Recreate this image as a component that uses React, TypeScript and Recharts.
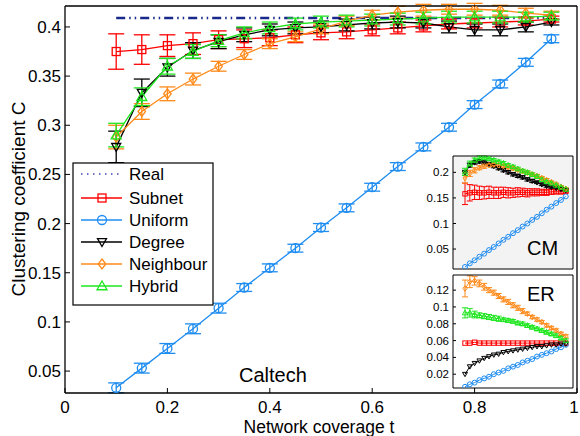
import { ComposedChart, Line, XAxis, YAxis, ErrorBar, CartesianGrid } from 'recharts'

// Main panel: clustering coefficient vs. network coverage (Caltech)
const coverage = [0.1, 0.15, 0.2, 0.25, 0.3, 0.35, 0.4, 0.45, 0.5, 0.55, 0.6, 0.65, 0.7, 0.75, 0.8, 0.85, 0.9, 0.95]
const realC = 0.409
const subnet = [0.375, 0.377, 0.381, 0.383, 0.387, 0.388, 0.389, 0.392, 0.394, 0.395, 0.397, 0.399, 0.401, 0.403, 0.404, 0.405, 0.406, 0.408]
const subnetErr = [0.018, 0.015, 0.011, 0.011, 0.009, 0.009, 0.008, 0.008, 0.007, 0.007, 0.006, 0.006, 0.006, 0.005, 0.005, 0.005, 0.004, 0.003]
const uniform = [0.033, 0.053, 0.073, 0.093, 0.114, 0.135, 0.155, 0.175, 0.196, 0.216, 0.237, 0.258, 0.278, 0.298, 0.321, 0.342, 0.364, 0.388]
const uniformErr = [0.005, 0.005, 0.005, 0.005, 0.005, 0.004, 0.004, 0.004, 0.004, 0.004, 0.004, 0.004, 0.004, 0.004, 0.004, 0.004, 0.004, 0.004]
const degree = [0.278, 0.333, 0.359, 0.376, 0.385, 0.392, 0.397, 0.399, 0.400, 0.402, 0.404, 0.405, 0.404, 0.400, 0.397, 0.397, 0.400, 0.405]
const degreeErr = [0.016, 0.014, 0.009, 0.008, 0.007, 0.007, 0.006, 0.006, 0.006, 0.006, 0.006, 0.006, 0.005, 0.006, 0.006, 0.006, 0.005, 0.003]
const neighbour = [0.288, 0.314, 0.332, 0.347, 0.360, 0.372, 0.383, 0.390, 0.398, 0.406, 0.412, 0.415, 0.417, 0.418, 0.418, 0.417, 0.414, 0.412]
const neighbourErr = [0.012, 0.008, 0.007, 0.006, 0.005, 0.005, 0.005, 0.005, 0.005, 0.005, 0.005, 0.006, 0.006, 0.005, 0.006, 0.005, 0.005, 0.004]
const hybrid = [0.290, 0.329, 0.360, 0.375, 0.386, 0.394, 0.399, 0.403, 0.405, 0.406, 0.407, 0.408, 0.409, 0.410, 0.410, 0.410, 0.410, 0.411]
const hybridErr = [0.012, 0.009, 0.008, 0.007, 0.006, 0.006, 0.006, 0.006, 0.006, 0.006, 0.006, 0.006, 0.006, 0.006, 0.006, 0.006, 0.005, 0.004]

const xTicks = [0, 0.2, 0.4, 0.6, 0.8, 1]
const yTicks = [0.05, 0.1, 0.15, 0.2, 0.25, 0.3, 0.35, 0.4]

// Insets: synthetic networks
const insetCoverage = [0.1, 0.14, 0.18, 0.22, 0.26, 0.3, 0.34, 0.38, 0.42, 0.46, 0.5, 0.54, 0.58, 0.62, 0.66, 0.7, 0.74, 0.78, 0.82, 0.86, 0.9, 0.94]

const cmSubnet = [0.158, 0.160, 0.161, 0.160, 0.160, 0.161, 0.160, 0.160, 0.161, 0.160, 0.160, 0.161, 0.161, 0.160, 0.161, 0.161, 0.161, 0.161, 0.162, 0.162, 0.162, 0.163]
const cmSubnetErr = [0.021, 0.016, 0.014, 0.013, 0.012, 0.012, 0.011, 0.011, 0.010, 0.010, 0.009, 0.009, 0.008, 0.008, 0.007, 0.007, 0.006, 0.006, 0.005, 0.004, 0.004, 0.003]
const cmUniform = [0.015, 0.022, 0.028, 0.035, 0.041, 0.048, 0.054, 0.061, 0.068, 0.074, 0.081, 0.087, 0.094, 0.100, 0.107, 0.113, 0.120, 0.127, 0.133, 0.140, 0.146, 0.153]
const cmDegree = [0.199, 0.214, 0.219, 0.221, 0.219, 0.216, 0.212, 0.208, 0.204, 0.200, 0.196, 0.193, 0.190, 0.186, 0.183, 0.180, 0.176, 0.173, 0.171, 0.169, 0.167, 0.165]
const cmDegreeErr = [0.005, 0.004, 0.003, 0.003, 0.003, 0.003, 0.003, 0.003, 0.003, 0.003, 0.003, 0.003, 0.003, 0.003, 0.003, 0.002, 0.002, 0.002, 0.002, 0.002, 0.002, 0.002]
const cmNeighbour = [0.189, 0.198, 0.204, 0.209, 0.212, 0.214, 0.215, 0.214, 0.212, 0.210, 0.208, 0.205, 0.202, 0.199, 0.196, 0.193, 0.189, 0.185, 0.181, 0.177, 0.172, 0.168]
const cmNeighbourErr = [0.010, 0.006, 0.005, 0.004, 0.004, 0.003, 0.003, 0.003, 0.003, 0.003, 0.003, 0.003, 0.003, 0.003, 0.003, 0.003, 0.003, 0.003, 0.002, 0.002, 0.002, 0.002]
const cmHybrid = [0.201, 0.217, 0.224, 0.228, 0.229, 0.227, 0.224, 0.221, 0.218, 0.214, 0.211, 0.207, 0.203, 0.200, 0.196, 0.192, 0.186, 0.182, 0.179, 0.175, 0.171, 0.167]
const cmHybridErr = [0.007, 0.005, 0.004, 0.004, 0.003, 0.003, 0.003, 0.003, 0.003, 0.003, 0.003, 0.003, 0.003, 0.003, 0.003, 0.003, 0.003, 0.002, 0.002, 0.002, 0.002, 0.002]

const erSubnet = [0.057, 0.057, 0.058, 0.057, 0.057, 0.057, 0.057, 0.057, 0.057, 0.057, 0.057, 0.057, 0.057, 0.057, 0.057, 0.057, 0.057, 0.057, 0.057, 0.057, 0.057, 0.057]
const erUniform = [0.005, 0.008, 0.010, 0.013, 0.015, 0.017, 0.020, 0.022, 0.024, 0.027, 0.029, 0.031, 0.034, 0.036, 0.038, 0.041, 0.043, 0.045, 0.047, 0.050, 0.052, 0.055]
const erDegree = [0.020, 0.029, 0.033, 0.036, 0.039, 0.041, 0.043, 0.044, 0.046, 0.047, 0.048, 0.049, 0.050, 0.051, 0.052, 0.053, 0.053, 0.054, 0.055, 0.055, 0.056, 0.056]
const erNeighbour = [0.122, 0.130, 0.131, 0.128, 0.124, 0.120, 0.117, 0.113, 0.109, 0.106, 0.102, 0.099, 0.095, 0.092, 0.088, 0.085, 0.082, 0.078, 0.075, 0.072, 0.068, 0.065]
const erNeighbourErr = [0.010, 0.007, 0.005, 0.004, 0.004, 0.003, 0.003, 0.003, 0.003, 0.003, 0.003, 0.003, 0.003, 0.002, 0.002, 0.002, 0.002, 0.002, 0.002, 0.002, 0.002, 0.002]
const erHybrid = [0.093, 0.093, 0.091, 0.090, 0.089, 0.088, 0.087, 0.086, 0.085, 0.084, 0.083, 0.081, 0.080, 0.078, 0.076, 0.074, 0.072, 0.070, 0.068, 0.066, 0.063, 0.060]
const erHybridErr = [0.006, 0.005, 0.004, 0.003, 0.003, 0.003, 0.003, 0.003, 0.002, 0.002, 0.002, 0.002, 0.002, 0.002, 0.002, 0.002, 0.002, 0.002, 0.002, 0.002, 0.002, 0.002]

const cmTicks = [0.05, 0.1, 0.15, 0.2]
const erTicks = [0.02, 0.04, 0.06, 0.08, 0.1, 0.12]
const insetXTicks = [0.2, 0.4, 0.6, 0.8]

const NAVY = '#1a2a8c'
const RED = '#ff0000'
const BLUE = '#1e8cf0'
const BLACK = '#000000'
const ORANGE = '#ff8a1a'
const GREEN = '#1ee61e'
const FONT = "'Liberation Sans', Arial, Helvetica, sans-serif"

type MarkerKind = 'square' | 'circle' | 'down' | 'diamond' | 'up'

const series: { key: string; name: string; color: string; marker: MarkerKind; size: number }[] = [
  { key: 'subnet', name: 'Subnet', color: RED, marker: 'square', size: 8 },
  { key: 'uniform', name: 'Uniform', color: BLUE, marker: 'circle', size: 9 },
  { key: 'degree', name: 'Degree', color: BLACK, marker: 'down', size: 9 },
  { key: 'neighbour', name: 'Neighbour', color: ORANGE, marker: 'diamond', size: 10 },
  { key: 'hybrid', name: 'Hybrid', color: GREEN, marker: 'up', size: 10 },
]

const mainRows = coverage.map((t, i) => ({
  t,
  real: realC,
  subnet: subnet[i], subnetErr: subnetErr[i],
  uniform: uniform[i], uniformErr: uniformErr[i],
  degree: degree[i], degreeErr: degreeErr[i],
  neighbour: neighbour[i], neighbourErr: neighbourErr[i],
  hybrid: hybrid[i], hybridErr: hybridErr[i],
}))

const cmRows = insetCoverage.map((t, i) => ({
  t,
  subnet: cmSubnet[i], subnetErr: cmSubnetErr[i],
  uniform: cmUniform[i],
  degree: cmDegree[i], degreeErr: cmDegreeErr[i],
  neighbour: cmNeighbour[i], neighbourErr: cmNeighbourErr[i],
  hybrid: cmHybrid[i], hybridErr: cmHybridErr[i],
}))

const erRows = insetCoverage.map((t, i) => ({
  t,
  subnet: erSubnet[i],
  uniform: erUniform[i],
  degree: erDegree[i],
  neighbour: erNeighbour[i], neighbourErr: erNeighbourErr[i],
  hybrid: erHybrid[i], hybridErr: erHybridErr[i],
}))

// open MATLAB-style markers
function markerDot(kind: MarkerKind, color: string, size: number, sw: number) {
  return (props: any) => {
    const { cx, cy, index } = props
    const key = `${kind}-${index}`
    if (cx == null || cy == null) return <g key={key} />
    const h = size / 2
    const common = { fill: 'none', stroke: color, strokeWidth: sw }
    switch (kind) {
      case 'square':
        return <rect key={key} x={cx - h} y={cy - h} width={size} height={size} {...common} />
      case 'circle':
        return <circle key={key} cx={cx} cy={cy} r={h} {...common} />
      case 'down':
        return <polygon key={key} points={`${cx - h},${cy - h * 0.75} ${cx + h},${cy - h * 0.75} ${cx},${cy + h}`} {...common} />
      case 'up':
        return <polygon key={key} points={`${cx - h},${cy + h * 0.75} ${cx + h},${cy + h * 0.75} ${cx},${cy - h}`} {...common} />
      default:
        return <polygon key={key} points={`${cx},${cy - h} ${cx + h * 0.75},${cy} ${cx},${cy + h} ${cx - h * 0.75},${cy}`} {...common} />
    }
  }
}

const fmt = (v: number) => String(v)

// x tick labels; the last one is nudged so it stays inside the frame
function XTick(props: any) {
  const { x, y, payload } = props
  return (
    <text x={Math.min(x, 574)} y={y + 12} textAnchor="middle" fontSize={17} fontFamily={FONT} fill="#000">
      {fmt(payload.value)}
    </text>
  )
}

function MainChart() {
  return (
    <ComposedChart width={580} height={436} data={mainRows} margin={{ top: 0, right: 0, bottom: 0, left: 0 }}>
      <XAxis dataKey="t" type="number" domain={[0, 1]} ticks={xTicks} height={43} allowDataOverflow
             tickSize={-5} tickMargin={13} interval={0} tick={<XTick />}
             axisLine={{ stroke: '#000', strokeWidth: 1.3 }} tickLine={{ stroke: '#000' }} />
      <XAxis xAxisId="top" orientation="top" type="number" domain={[0, 1]} ticks={[0.2, 0.4, 0.6, 0.8]} height={6}
             allowDataOverflow tick={false} tickSize={-5}
             axisLine={{ stroke: '#000', strokeWidth: 1.3 }} tickLine={{ stroke: '#000' }} />
      <YAxis type="number" domain={[0.0277, 0.4213]} ticks={yTicks} width={65} allowDataOverflow
             tickSize={-5} tickMargin={9} tickFormatter={fmt} interval={0}
             tick={{ fontSize: 17, fill: '#000', fontFamily: FONT }}
             axisLine={{ stroke: '#000', strokeWidth: 1.3 }} tickLine={{ stroke: '#000' }} />
      <YAxis yAxisId="right" orientation="right" type="number" domain={[0.0277, 0.4213]} ticks={yTicks} width={3}
             allowDataOverflow tick={false} tickSize={-5}
             axisLine={{ stroke: '#000', strokeWidth: 1.3 }} tickLine={{ stroke: '#000' }} />

      <Line dataKey="real" stroke={NAVY} strokeWidth={2.5} strokeDasharray="9 4 1.5 4 1.5 4"
            dot={false} activeDot={false} isAnimationActive={false} />
      {series.map(s => (
        <Line key={s.key} dataKey={s.key} stroke={s.color} strokeWidth={1.3}
              dot={markerDot(s.marker, s.color, s.size, 1.3)} activeDot={false} isAnimationActive={false}>
          <ErrorBar dataKey={`${s.key}Err`} width={8} stroke={s.color} strokeWidth={1.3}
                    direction="y" isAnimationActive={false} />
        </Line>
      ))}

      <text x={239} y={382} fontSize={20} fontFamily={FONT} fill="#000">Caltech</text>
      <text x={319} y={433} fontSize={17.5} fontFamily={FONT} fill="#000" textAnchor="middle">Network coverage t</text>
      <text x={25} y={199} fontSize={19} fontFamily={FONT} fill="#000" textAnchor="middle"
            transform="rotate(-90 25 199)">Clustering coefficient C</text>
    </ComposedChart>
  )
}

interface InsetProps {
  rows: Record<string, number>[]
  top: number
  domain: [number, number]
  ticks: number[]
  fill: string
  label: string
  labelY: number
  withErr: string[]
}

function Inset({ rows, top, domain, ticks, fill, label, labelY, withErr }: InsetProps) {
  const axisLine = { stroke: '#000', strokeWidth: 1 }
  return (
    <div style={{ position: 'absolute', left: 400, top }}>
      <ComposedChart width={175} height={125} data={rows} margin={{ top: 0, right: 0, bottom: 0, left: 0 }}>
        <CartesianGrid horizontal={false} vertical={false} fill={fill} />
        <XAxis dataKey="t" type="number" domain={[0, 1]} ticks={insetXTicks} height={6} allowDataOverflow
               tick={false} tickSize={-3} axisLine={axisLine} tickLine={{ stroke: '#000' }} />
        <XAxis xAxisId="top" orientation="top" type="number" domain={[0, 1]} ticks={insetXTicks} height={6}
               allowDataOverflow tick={false} tickSize={-3} axisLine={axisLine} tickLine={{ stroke: '#000' }} />
        <YAxis type="number" domain={domain} ticks={ticks} width={53} allowDataOverflow interval={0}
               tickSize={-3} tickMargin={7} tickFormatter={fmt}
               tick={{ fontSize: 11.5, fill: '#000', fontFamily: FONT }}
               axisLine={axisLine} tickLine={{ stroke: '#000' }} />
        <YAxis yAxisId="right" orientation="right" type="number" domain={domain} ticks={ticks} width={2}
               allowDataOverflow tick={false} tickSize={-3} axisLine={axisLine} tickLine={{ stroke: '#000' }} />
        {series.map(s => (
          <Line key={s.key} dataKey={s.key} stroke={s.color} strokeWidth={1}
                dot={markerDot(s.marker, s.color, s.size * 0.55, 1)} activeDot={false} isAnimationActive={false}>
            {withErr.includes(s.key) && (
              <ErrorBar dataKey={`${s.key}Err`} width={3} stroke={s.color} strokeWidth={1}
                        direction="y" isAnimationActive={false} />
            )}
          </Line>
        ))}
        <text x={127} y={labelY} fontSize={20} fontFamily={FONT} fill="#000">{label}</text>
      </ComposedChart>
    </div>
  )
}

function LegendBox() {
  const rowY = [12, 36, 58, 80, 102, 124]
  return (
    <svg width={142} height={144} style={{ position: 'absolute', left: 72, top: 162 }}>
      <rect x={1} y={1} width={140} height={142} fill="#fff" stroke="#000" strokeWidth={1.2} />
      <line x1={9} x2={50} y1={rowY[0]} y2={rowY[0]} stroke="#3848b0" strokeWidth={1.5} strokeDasharray="1.5 4.5" />
      <text x={57} y={rowY[0] + 6} fontSize={17} fontFamily={FONT} fill="#000">Real</text>
      {series.map((s, i) => {
        const y = rowY[i + 1]
        return (
          <g key={s.key}>
            <line x1={9} x2={50} y1={y} y2={y} stroke={s.color} strokeWidth={1.3} />
            {markerDot(s.marker, s.color, s.size, 1.3)({ cx: 30, cy: y, index: i })}
            <text x={57} y={y + 6} fontSize={17} fontFamily={FONT} fill="#000">{s.name}</text>
          </g>
        )
      })}
    </svg>
  )
}

export default function App() {
  return (
    <div style={{ position: 'relative', width: 580, height: 436, background: '#fff', fontFamily: FONT }}>
      <style>{'body{margin:0}'}</style>
      <MainChart />
      <Inset rows={cmRows} top={150} domain={[0.011, 0.232]} ticks={cmTicks} fill="#f3f3f3"
             label="CM" labelY={105} withErr={['subnet', 'degree', 'neighbour', 'hybrid']} />
      <Inset rows={erRows} top={269} domain={[0.0036, 0.138]} ticks={erTicks} fill="#ffffff"
             label="ER" labelY={32} withErr={['neighbour', 'hybrid']} />
      <LegendBox />
    </div>
  )
}
